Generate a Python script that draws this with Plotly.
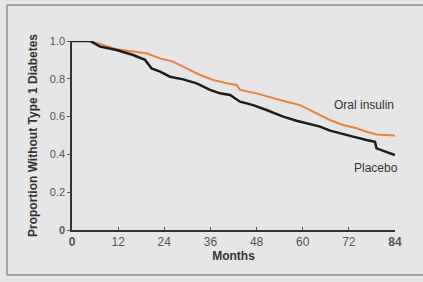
import plotly.graph_objects as go

months_placebo = [0, 4.7, 7.3, 11.6, 15.9, 19, 20.7, 22.9, 25.5, 28.9, 32.4, 35.9, 38.5, 41.1, 43.7,
                  47.1, 50.6, 54.9, 58.4, 61, 64.5, 67.1, 69.7, 73.1, 76.6, 78.8, 79.2, 81.8, 84]
placebo = [1.0, 1.0, 0.97, 0.952, 0.926, 0.90, 0.855, 0.838, 0.811, 0.797, 0.776, 0.741, 0.723, 0.714, 0.679,
           0.661, 0.635, 0.60, 0.578, 0.564, 0.547, 0.526, 0.511, 0.494, 0.476, 0.467, 0.432, 0.414, 0.397]

months_oral = [0, 4.7, 11.6, 15.9, 19.4, 22.9, 26.3, 29.8, 33.3, 36.7, 40.2, 42.8, 43.7, 48, 51.5,
               55.8, 59.3, 61.9, 64.5, 67.1, 70.5, 74, 76.6, 79.2, 84]
oral = [1.0, 1.0, 0.956, 0.944, 0.935, 0.908, 0.891, 0.855, 0.82, 0.794, 0.776, 0.767, 0.741, 0.723, 0.702,
        0.679, 0.661, 0.635, 0.608, 0.582, 0.556, 0.538, 0.52, 0.505, 0.50]

x_ticks = [0, 12, 24, 36, 48, 60, 72, 84]
x_labels = ["<b>0</b>", "12", "24", "36", "48", "60", "72", "<b>84</b>"]
y_ticks = [0, 0.2, 0.4, 0.6, 0.8, 1.0]
y_labels = ["<b>0</b>", "0.2", "0.4", "0.6", "0.8", "1.0"]

L, R, T, B = 72, 395, 41, 230
def px(x): return (x - L) / (R - L)
def py(y): return (B - y) / (B - T)

fig = go.Figure()
fig.add_trace(go.Scatter(x=months_oral, y=oral, mode="lines", line=dict(color="#e8823c", width=2),
                         cliponaxis=False, showlegend=False))
fig.add_trace(go.Scatter(x=months_placebo, y=placebo, mode="lines", line=dict(color="#1c1c1c", width=2.5),
                         cliponaxis=False, showlegend=False))

fig.add_annotation(x=76, y=0.66, text="Oral insulin", showarrow=False,
                   font=dict(family="Liberation Sans", size=12, color="#333333"))
fig.add_annotation(x=79, y=0.33, text="Placebo", showarrow=False,
                   font=dict(family="Liberation Sans", size=12, color="#333333"))

# outer frame lines
frame = dict(color="#8c8c8c", width=1.5)
fig.add_shape(type="line", xref="paper", yref="paper", x0=px(7), x1=px(423), y0=py(5), y1=py(5), line=frame)
fig.add_shape(type="line", xref="paper", yref="paper", x0=px(7), x1=px(7), y0=py(5), y1=py(275), line=frame)
fig.add_shape(type="line", xref="paper", yref="paper", x0=px(7), x1=px(423), y0=py(275), y1=py(275), line=frame)

fig.update_layout(
    width=423, height=282,
    margin=dict(l=L, r=423 - R, t=T, b=282 - B, autoexpand=False),
    paper_bgcolor="#e6e6e6", plot_bgcolor="#e6e6e6",
    font=dict(family="Liberation Sans", size=10, color="#444444"),
    xaxis=dict(range=[0, 84], tickvals=x_ticks, ticktext=x_labels, showgrid=False, zeroline=False,
               showline=True, linecolor="#333333", linewidth=1.5, ticks="inside", ticklen=3,
               tickcolor="#555555", tickfont=dict(size=12, color="#555555"), automargin=False,
               title=dict(text="<b>Months</b>", standoff=3, font=dict(size=12, color="#333333"))),
    yaxis=dict(range=[0, 1.0], tickvals=y_ticks, ticktext=y_labels, showgrid=False, zeroline=False,
               showline=True, linecolor="#333333", linewidth=1.5, ticks="outside", ticklen=3,
               tickcolor="#555555", tickfont=dict(size=11, color="#555555"), automargin=False,
               title=dict(text="<b>Proportion Without Type 1 Diabetes</b>", standoff=10,
                          font=dict(size=12, color="#333333"))),
)
fig.write_html("out.html", config={"displayModeBar": False},
               post_script="document.body.style.margin='0';document.body.style.overflow='hidden';")
